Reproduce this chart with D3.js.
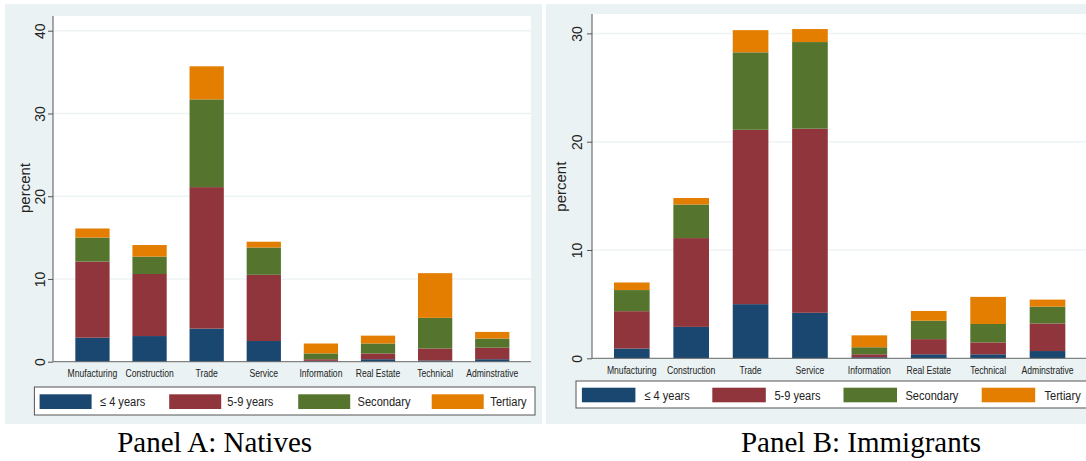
<!DOCTYPE html>
<html>
<head>
<meta charset="utf-8">
<script src="https://cdn.jsdelivr.net/npm/d3@7"></script>
<style>
  body { margin: 0; background: #ffffff; }
  svg { display: block; }
  .narrow { font-family: "Liberation Sans", Arial, sans-serif; fill: #222; }
  .panel-title { font-family: "Liberation Serif", "Times New Roman", serif; font-size: 29px; fill: #000; }
</style>
</head>
<body>
<svg id="chart" width="1086" height="461"></svg>
<script>
// categories and series (percent)
const categories = ["Mnufacturing", "Construction", "Trade", "Service", "Information", "Real Estate", "Technical", "Adminstrative"];
const groups = ["\u2264 4 years", "5-9 years", "Secondary", "Tertiary"];
const colors = ["#1a476f", "#90353b", "#55752f", "#e37e00"];

// Panel A: Natives
const nativesLe4 = [2.9, 3.1, 4.0, 2.5, 0.1, 0.3, 0.15, 0.3];
const natives59 = [9.2, 7.5, 17.1, 8.0, 0.2, 0.7, 1.45, 1.4];
const nativesSec = [2.9, 2.1, 10.6, 3.3, 0.7, 1.2, 3.7, 1.1];
const nativesTer = [1.1, 1.4, 4.0, 0.7, 1.2, 0.95, 5.4, 0.8];
const nativesTicks = [0, 10, 20, 30, 40];

// Panel B: Immigrants
const immigrantsLe4 = [0.9, 2.9, 5.0, 4.2, 0.1, 0.37, 0.37, 0.67];
const immigrants59 = [3.45, 8.2, 16.1, 17.0, 0.27, 1.4, 1.1, 2.55];
const immigrantsSec = [1.95, 3.1, 7.15, 8.0, 0.65, 1.7, 1.7, 1.55];
const immigrantsTer = [0.7, 0.6, 2.05, 1.2, 1.1, 0.9, 2.5, 0.65];
const immigrantsTicks = [0, 10, 20, 30];

class stackedPanel {
    constructor(_config, _series, _ticks) {
        this.config = _config;
        this.series = _series;
        this.ticks = _ticks;
        this.initVis();
    }

    initVis() {
        let vis = this;
        let c = vis.config;
        vis.svg = d3.select("#chart");
        vis.g = vis.svg.append("g");

        // graph region + plot region
        vis.g.append("rect")
            .attr("x", c.bg.x).attr("y", c.bg.y)
            .attr("width", c.bg.w).attr("height", c.bg.h)
            .attr("fill", "#eaf2f3");
        vis.g.append("rect")
            .attr("x", c.plot.left).attr("y", c.plot.top)
            .attr("width", c.plot.right - c.plot.left)
            .attr("height", c.plot.bottom - c.plot.top)
            .attr("fill", "#ffffff");

        vis.xScale = d3.scaleBand()
            .domain(categories)
            .range(c.band)
            .paddingInner(0.4)
            .paddingOuter(0.2);

        vis.yScale = d3.scaleLinear()
            .domain([0, c.ymax])
            .range([c.plot.bottom, c.plot.top]);

        vis.renderVis();
    }

    renderVis() {
        let vis = this;
        let c = vis.config;

        // grid lines
        vis.g.selectAll(".grid")
            .data(vis.ticks.filter(d => d > 0))
            .join("line")
            .attr("class", "grid")
            .attr("x1", c.plot.left).attr("x2", c.plot.right)
            .attr("y1", d => vis.yScale(d)).attr("y2", d => vis.yScale(d))
            .attr("stroke", "#eef3f4")
            .attr("stroke-width", 1.5);

        // stacked bars
        let rows = categories.map((cat, i) => {
            let r = { cat: cat };
            groups.forEach((gname, j) => { r[gname] = vis.series[j][i]; });
            return r;
        });
        let stacked = d3.stack().keys(groups)(rows);

        vis.g.selectAll(".layer")
            .data(stacked)
            .join("g")
            .attr("class", "layer")
            .attr("fill", (d, i) => colors[i])
            .selectAll("rect")
            .data(d => d)
            .join("rect")
            .attr("x", d => vis.xScale(d.data.cat))
            .attr("width", vis.xScale.bandwidth())
            .attr("y", d => vis.yScale(d[1]))
            .attr("height", d => vis.yScale(d[0]) - vis.yScale(d[1]));

        // y axis
        let yAxis = d3.axisLeft(vis.yScale)
            .tickValues(vis.ticks)
            .tickSize(5)
            .tickFormat(d3.format("d"));
        let yAxisG = vis.g.append("g")
            .attr("transform", `translate(${c.plot.left},0)`)
            .call(yAxis);
        yAxisG.select(".domain")
            .attr("stroke", "#555")
            .attr("d", `M0,${c.plot.top}V${c.plot.bottom}`);
        yAxisG.selectAll(".tick line").attr("stroke", "#555");
        yAxisG.selectAll(".tick text")
            .attr("x", null).attr("dy", null)
            .attr("transform", d => `translate(${c.tickX - c.plot.left},0) rotate(-90)`)
            .attr("dy", "0.35em")
            .attr("text-anchor", "middle")
            .style("font-family", "'Liberation Sans', Arial, sans-serif")
            .style("font-size", "14px")
            .attr("fill", "#222");

        // x axis baseline
        vis.g.append("line")
            .attr("x1", c.plot.left).attr("x2", c.plot.right)
            .attr("y1", vis.yScale(0)).attr("y2", vis.yScale(0))
            .attr("stroke", "#666").attr("stroke-width", 1);

        // category labels (narrow)
        vis.g.selectAll(".cat")
            .data(categories)
            .join("text")
            .attr("class", "cat narrow")
            .attr("transform", d => `translate(${vis.xScale(d) + vis.xScale.bandwidth() / 2},${c.catY}) scale(0.82,1)`)
            .attr("text-anchor", "middle")
            .style("font-size", "10.5px")
            .text(d => d);

        // y title (baseline at percentX)
        vis.g.append("text")
            .attr("transform", `translate(${c.percentX},${c.percentY}) rotate(-90)`)
            .attr("text-anchor", "middle")
            .style("font-family", "'Liberation Sans', Arial, sans-serif")
            .style("font-size", "15px")
            .attr("fill", "#222")
            .text("percent");

        // legend
        let L = c.legend;
        vis.g.append("rect")
            .attr("x", L.x).attr("y", L.y)
            .attr("width", L.w).attr("height", L.h)
            .attr("fill", "#ffffff")
            .attr("stroke", "#555").attr("stroke-width", 1);
        vis.g.selectAll(".swatch")
            .data(groups)
            .join("rect")
            .attr("class", "swatch")
            .attr("x", (d, i) => L.sx[i])
            .attr("y", L.sy)
            .attr("width", L.sw).attr("height", L.sh)
            .attr("fill", (d, i) => colors[i]);
        vis.g.selectAll(".legtext")
            .data(groups)
            .join("text")
            .attr("class", "legtext narrow")
            .attr("transform", (d, i) => `translate(${i < 3 ? L.tx[i] : L.tEnd},${L.sy + L.sh / 2}) scale(0.82,1)`)
            .attr("dy", "0.35em")
            .attr("text-anchor", (d, i) => i < 3 ? "start" : "end")
            .style("font-size", "13.5px")
            .text(d => d);

        // panel caption
        vis.svg.append("text")
            .attr("class", "panel-title")
            .attr("x", c.titleX).attr("y", 451.7)
            .attr("text-anchor", "middle")
            .text(c.title);
    }
}

new stackedPanel({
    bg: { x: 5, y: 4, w: 537, h: 420 },
    plot: { left: 53, right: 531, top: 16, bottom: 361.7 },
    ymax: 41.78,
    band: [63.9, 520.8],
    tickX: 40,
    percentX: 30,
    percentY: 188,
    catY: 376.5,
    legend: { x: 34.4, y: 387, w: 500.6, h: 28, sx: [39.6, 169.2, 298.2, 431.7], sy: 394.3, sw: 52, sh: 14.7, tx: [100, 227.3, 357.6], tEnd: 526.6 },
    titleX: 214.6,
    title: "Panel A: Natives"
}, [nativesLe4, natives59, nativesSec, nativesTer], nativesTicks);

new stackedPanel({
    bg: { x: 546, y: 4, w: 545, h: 420 },
    plot: { left: 592, right: 1090, top: 14, bottom: 358.3 },
    ymax: 31.79,
    band: [602.1, 1077.2],
    tickX: 576.7,
    percentX: 566,
    percentY: 186.7,
    catY: 374,
    legend: { x: 576, y: 381, w: 520, h: 27, sx: [581.9, 712.3, 843.5, 981.7], sy: 387.7, sw: 53.5, sh: 14.6, tx: [644.4, 774.4, 905.5], tEnd: 1080.7 },
    titleX: 861,
    title: "Panel B: Immigrants"
}, [immigrantsLe4, immigrants59, immigrantsSec, immigrantsTer], immigrantsTicks);
</script>
</body>
</html>
